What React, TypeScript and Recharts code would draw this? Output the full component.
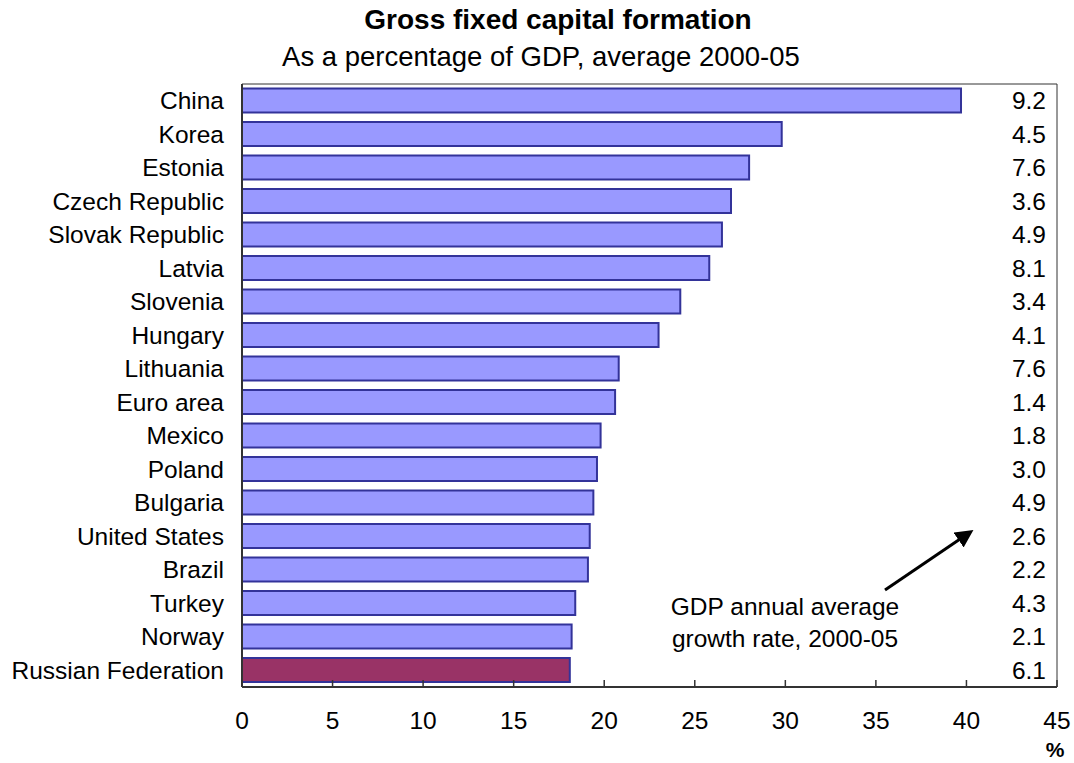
import React from 'react';
import { BarChart, Bar, XAxis, YAxis, Cell } from 'recharts';

const categories = [
  'China', 'Korea', 'Estonia', 'Czech Republic', 'Slovak Republic', 'Latvia',
  'Slovenia', 'Hungary', 'Lithuania', 'Euro area', 'Mexico', 'Poland',
  'Bulgaria', 'United States', 'Brazil', 'Turkey', 'Norway', 'Russian Federation',
];
const gfcfShare = [
  39.7, 29.8, 28.0, 27.0, 26.5, 25.8, 24.2, 23.0, 20.8, 20.6, 19.8, 19.6,
  19.4, 19.2, 19.1, 18.4, 18.2, 18.1,
];
const gdpGrowth = [
  '9.2', '4.5', '7.6', '3.6', '4.9', '8.1', '3.4', '4.1', '7.6', '1.4', '1.8',
  '3.0', '4.9', '2.6', '2.2', '4.3', '2.1', '6.1',
];
const xTicks = [0, 5, 10, 15, 20, 25, 30, 35, 40, 45];
const highlighted = 'Russian Federation';

const title = 'Gross fixed capital formation';
const subtitle = 'As a percentage of GDP, average 2000-05';
const annotationLines = ['GDP annual average', 'growth rate, 2000-05'];
const unitLabel = '%';

const data = categories.map((name, i) => ({ name, value: gfcfShare[i], growth: gdpGrowth[i] }));
const growthByName: Record<string, string> = {};
categories.forEach((c, i) => { growthByName[c] = gdpGrowth[i]; });

const FONT = '"Liberation Sans", Arial, Helvetica, sans-serif';
const LABEL_SIZE = 24.5;

const XTick = (props: any) => {
  const { x, y, payload } = props;
  return (
    <g>
      <line x1={x} x2={x} y1={y} y2={y - 7} stroke="#333333" strokeWidth={1.5} />
      <text x={x} y={y + 42} textAnchor="middle" fill="#000" fontSize={LABEL_SIZE} fontFamily={FONT}>
        {payload.value}
      </text>
    </g>
  );
};

export default function App() {
  return (
    <div style={{ position: 'absolute', left: 0, top: 0, width: 1074, height: 763, fontFamily: FONT, background: '#fff' }}>
      <BarChart
        width={1074}
        height={763}
        data={data}
        layout="vertical"
        margin={{ top: 83, right: 17, bottom: 16, left: 0 }}
        barCategoryGap="13.5%"
      >
        <XAxis
          type="number"
          domain={[0, 45]}
          ticks={xTicks}
          interval={0}
          height={60}
          tickSize={0}
          tickMargin={0}
          tickLine={false}
          tick={<XTick />}
          axisLine={{ stroke: '#333333', strokeWidth: 2 }}
        />
        <XAxis
          xAxisId="top"
          orientation="top"
          type="number"
          domain={[0, 45]}
          height={1}
          tick={false}
          tickLine={false}
          axisLine={{ stroke: '#333333', strokeWidth: 1 }}
        />
        <YAxis
          type="category"
          dataKey="name"
          width={242}
          tickSize={0}
          tickMargin={18}
          tickLine={false}
          interval={0}
          axisLine={{ stroke: '#333333', strokeWidth: 2 }}
          tick={{ fill: '#000', fontSize: LABEL_SIZE, fontFamily: FONT }}
        />
        <YAxis
          yAxisId="right"
          orientation="right"
          type="category"
          dataKey="name"
          mirror
          width={1}
          tickSize={0}
          tickMargin={11}
          tickLine={false}
          interval={0}
          tickFormatter={(v: string) => growthByName[v]}
          axisLine={{ stroke: '#333333', strokeWidth: 1 }}
          tick={{ fill: '#000', fontSize: LABEL_SIZE, fontFamily: FONT }}
        />
        <Bar dataKey="value" isAnimationActive={false} stroke="#333399" strokeWidth={2}>
          {data.map((d) => (
            <Cell key={d.name} fill={d.name === highlighted ? '#993366' : '#9999FF'} />
          ))}
        </Bar>
      </BarChart>
      <svg width={1074} height={763} style={{ position: 'absolute', left: 0, top: 0, pointerEvents: 'none' }}>
        <defs>
          <marker id="arrowHead" markerWidth="6" markerHeight="6" refX="3" refY="3" orient="auto" markerUnits="strokeWidth">
            <path d="M0,0 L6,3 L0,6 Z" fill="#000" />
          </marker>
        </defs>
        <text x={558} y={29} textAnchor="middle" fontSize={28} fontWeight="bold" fontFamily={FONT} fill="#000">{title}</text>
        <text x={541} y={66} textAnchor="middle" fontSize={27.5} fontFamily={FONT} fill="#000">{subtitle}</text>
        <line x1={885} y1={590} x2={966} y2={535} stroke="#000" strokeWidth={3} markerEnd="url(#arrowHead)" />
        <text x={785} y={615} textAnchor="middle" fontSize={LABEL_SIZE} fontFamily={FONT} fill="#000">{annotationLines[0]}</text>
        <text x={785} y={647} textAnchor="middle" fontSize={LABEL_SIZE} fontFamily={FONT} fill="#000">{annotationLines[1]}</text>
        <text x={1055} y={757} textAnchor="middle" fontSize={21} fontWeight="bold" fontFamily={FONT} fill="#000">{unitLabel}</text>
      </svg>
    </div>
  );
}
